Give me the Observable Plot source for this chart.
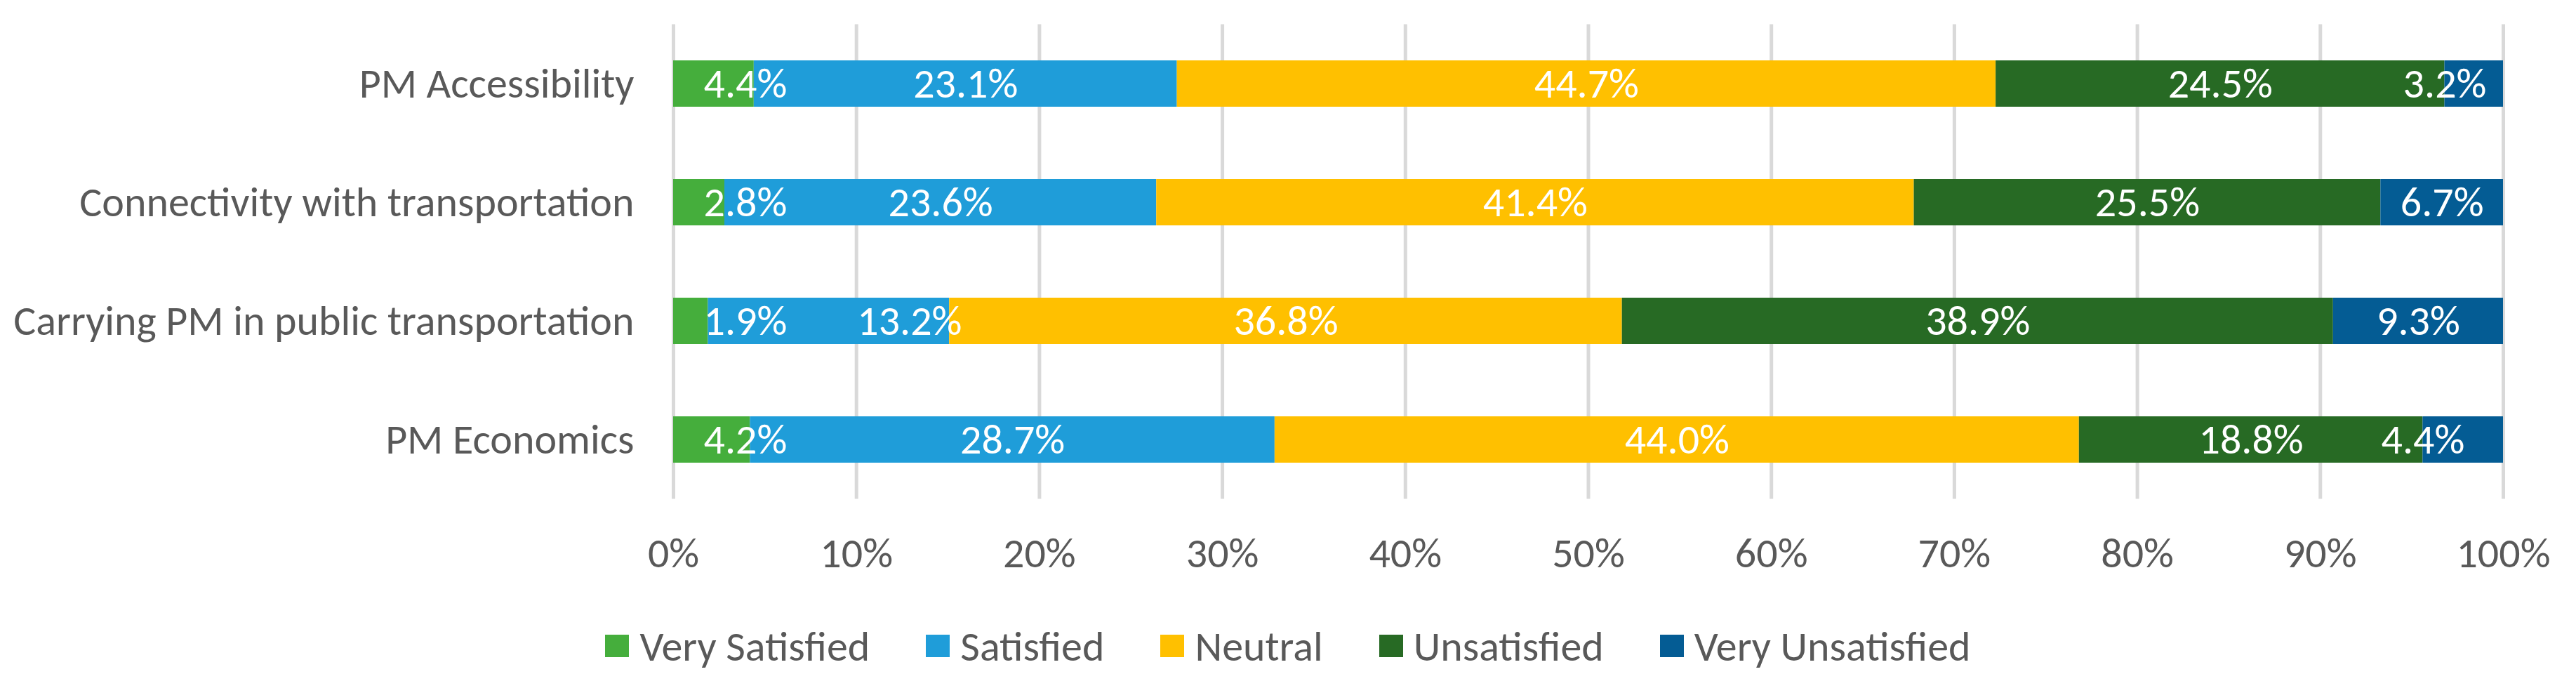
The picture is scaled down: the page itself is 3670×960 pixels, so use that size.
<!DOCTYPE html>
<html>
<head>
<meta charset="utf-8">
<script src="https://cdn.jsdelivr.net/npm/d3@7"></script>
<script src="https://cdn.jsdelivr.net/npm/@observablehq/plot@0.6"></script>
<style>
  html, body { margin: 0; padding: 0; background: #fff; }
  #chart { width: 3670px; }
  .legend { display: flex; justify-content: center; align-items: center; height: 80px; width: 3670px; color: #595959; }
  .legend .item { display: flex; align-items: center; margin: 0 40px; }
  .legend .sw { width: 34px; height: 32px; margin-right: 15px; }
</style>
</head>
<body>
<div id="chart"></div>
<script>
// ---- data (percent) ----
const categories = [
  "PM Accessibility",
  "Connectivity with transportation",
  "Carrying PM in public transportation",
  "PM Economics"
];
const levels = ["Very Satisfied", "Satisfied", "Neutral", "Unsatisfied", "Very Unsatisfied"];
const colors = ["#45AE3C", "#1F9DD9", "#FFC000", "#276A24", "#045C94"];
const verySatisfied   = [4.4, 2.8, 1.9, 4.2];
const satisfied       = [23.1, 23.6, 13.2, 28.7];
const neutral         = [44.7, 41.4, 36.8, 44.0];
const unsatisfied     = [24.5, 25.5, 38.9, 18.8];
const veryUnsatisfied = [3.2, 6.7, 9.3, 4.4];
const xTicks = [0, 10, 20, 30, 40, 50, 60, 70, 80, 90, 100];

// ---- font selection ----
function available(f) {
  const c = document.createElement("canvas").getContext("2d");
  const s = "Very Satisfied 0123456789%";
  return ["monospace", "serif"].some(b => {
    c.font = `60px ${b}`; const w0 = c.measureText(s).width;
    c.font = `60px "${f}", ${b}`; return c.measureText(s).width !== w0;
  });
}
const fontName = ["Carlito", "Calibri", "Liberation Sans Narrow", "Arial Narrow", "Lato"].find(available) || "Lato";
const ctx = document.createElement("canvas").getContext("2d");
ctx.font = `100px "${fontName}"`;
const wRef = ctx.measureText("Very Satisfied").width;
const fs = Math.min(328 / (wRef / 100), 62);
const fontFamily = `"${fontName}", Lato, sans-serif`;
ctx.font = `${fs}px "${fontName}"`;
const textW = s => ctx.measureText(s).width;

// ---- layout constants ----
const W = 3670, H = 880, mL = 959, mR = 104, mT = 34.5, mB = 169.5;
const pxPerUnit = (W - mL - mR) / 100;
const firstPad = 43;   // px inset of labels on the first (thin) segments
const labelGap = 100;  // px minimum gap between neighbouring labels

// ---- table built from the arrays (100% stacked, normalized per row) ----
const series = [verySatisfied, satisfied, neutral, unsatisfied, veryUnsatisfied];
const rows = [];
categories.forEach((cat, i) => {
  const total = d3.sum(series, s => s[i]);
  let cum = 0;
  let prevRight = -Infinity; // px, right edge of previous label
  series.forEach((s, j) => {
    const v = s[i];
    const x1 = cum / total * 100, x2 = (cum + v) / total * 100;
    cum += v;
    const label = d3.format(".1f")(v) + "%";
    const w = textW(label);
    let lx;
    if (j === 0) {
      lx = x1 + (firstPad + w / 2) / pxPerUnit;
    } else if (j === levels.length - 1 && v < 5) {
      lx = x1;
    } else {
      lx = (x1 + x2) / 2;
      const left = lx * pxPerUnit - w / 2;
      if (left < prevRight + labelGap) lx = (prevRight + labelGap + w / 2) / pxPerUnit;
    }
    prevRight = lx * pxPerUnit + w / 2;
    rows.push({category: cat, level: levels[j], j, value: v, x1, x2, lx, label});
  });
});

const plot = Plot.plot({
  width: W,
  height: H,
  marginTop: mT,
  marginBottom: mB,
  marginLeft: mL,
  marginRight: mR,
  style: {fontFamily, fontSize: fs + "px", color: "#595959", background: "#fff"},
  x: {domain: [0, 100], ticks: xTicks, tickFormat: d => d + "%", tickSize: 0, tickPadding: 54, label: null},
  y: {domain: categories, paddingInner: 0.61, paddingOuter: 0.305, tickSize: 0, tickPadding: 56, label: null},
  color: {domain: levels, range: colors},
  marks: [
    Plot.gridX(xTicks, {stroke: "#D9D9D9", strokeWidth: 5, strokeOpacity: 1}),
    Plot.barX(rows, {x1: "x1", x2: "x2", y: "category", fill: "level"}),
    Plot.text(rows, {x: "lx", y: "category", text: "label", fill: "white"}),
    Plot.axisX(xTicks, {tickSize: 0, tickPadding: 54, tickFormat: d => d + "%", label: null}),
    Plot.axisY({tickSize: 0, tickPadding: 56, label: null})
  ]
});
document.getElementById("chart").appendChild(plot);

// ---- legend ----
const lg = document.createElement("div");
lg.className = "legend";
lg.style.fontFamily = fontFamily;
lg.style.fontSize = fs + "px";
levels.forEach((l, j) => {
  const it = document.createElement("div"); it.className = "item";
  const sw = document.createElement("div"); sw.className = "sw"; sw.style.background = colors[j];
  const tx = document.createElement("span"); tx.textContent = l;
  it.appendChild(sw); it.appendChild(tx); lg.appendChild(it);
});
document.body.appendChild(lg);
</script>
</body>
</html>
